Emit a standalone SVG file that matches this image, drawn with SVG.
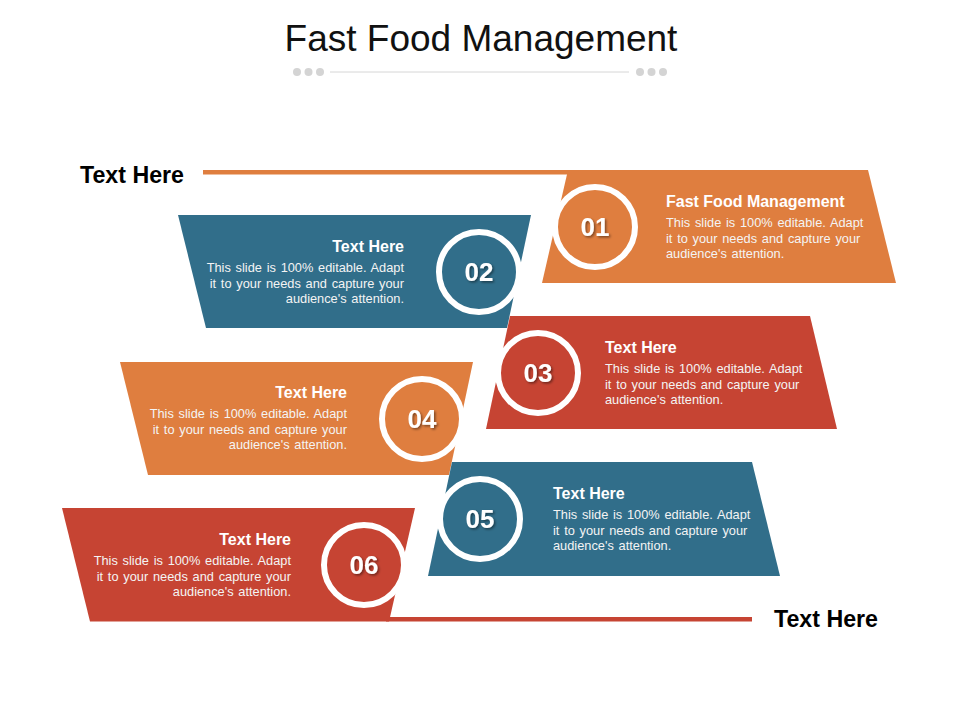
<svg xmlns="http://www.w3.org/2000/svg" width="960" height="720" viewBox="0 0 960 720">
<defs>
<filter id="sh" x="-30%" y="-30%" width="160%" height="160%">
<feDropShadow dx="1.5" dy="1.5" stdDeviation="0.8" flood-color="#000" flood-opacity="0.45"/>
</filter>
</defs>
<style>
text{font-family:"Liberation Sans",Arial,sans-serif}
.title{font-size:37px;fill:#111}
.side{font-size:23.2px;font-weight:bold;fill:#000}
.hd{font-size:16px;font-weight:bold;fill:#fff}
.bd{font-size:12.8px;fill:#f4f4f4;word-spacing:1.2px}
.num{font-size:26px;font-weight:bold;fill:#fff;text-anchor:middle}
.ring{stroke:#fff;stroke-width:6}
.or{fill:#DF7E3F}
.bl{fill:#316E8A}
.rd{fill:#C64433}
.r{text-anchor:end}
.dot{fill:#d4d4d4}
</style>
<rect width="960" height="720" fill="#fff"/>
<g id="header">
<text class="title" x="481" y="51" text-anchor="middle">Fast Food Management</text>
<circle class="dot" cx="297" cy="72" r="4"/>
<circle class="dot" cx="308.5" cy="72" r="4"/>
<circle class="dot" cx="320" cy="72" r="4"/>
<line x1="330" y1="72" x2="629" y2="72" stroke="#d6d6d6" stroke-width="1"/>
<circle class="dot" cx="640" cy="72" r="4"/>
<circle class="dot" cx="651.5" cy="72" r="4"/>
<circle class="dot" cx="663" cy="72" r="4"/>
</g>
<g id="connectors">
<rect class="or" x="203" y="170" width="368" height="4.5"/>
<rect class="rd" x="386" y="617" width="366" height="4.5"/>
</g>
<g id="band01">
<polygon class="or" points="568,170 868,170 896,283 542,283"/>
<circle class="or ring" cx="595" cy="227" r="40"/>
<text class="num" x="595" y="236" filter="url(#sh)">01</text>
<text class="hd" x="666" y="207">Fast Food Management</text>
<text class="bd" x="666" y="227">This slide is 100% editable. Adapt</text>
<text class="bd" x="666" y="242.5">it to your needs and capture your</text>
<text class="bd" x="666" y="258">audience's attention.</text>
</g>
<g id="band02">
<polygon class="bl" points="178,215 531,215 507,328 206,328"/>
<circle class="bl ring" cx="479" cy="272" r="40"/>
<text class="num" x="479" y="281" filter="url(#sh)">02</text>
<text class="hd r" x="404" y="252">Text Here</text>
<text class="bd r" x="404" y="272">This slide is 100% editable. Adapt</text>
<text class="bd r" x="404" y="287.5">it to your needs and capture your</text>
<text class="bd r" x="404" y="303">audience's attention.</text>
</g>
<g id="band03">
<polygon class="rd" points="510,316 810,316 837,429 486,429"/>
<circle class="rd ring" cx="538" cy="373" r="40"/>
<text class="num" x="538" y="382" filter="url(#sh)">03</text>
<text class="hd" x="605" y="353">Text Here</text>
<text class="bd" x="605" y="373">This slide is 100% editable. Adapt</text>
<text class="bd" x="605" y="388.5">it to your needs and capture your</text>
<text class="bd" x="605" y="404">audience's attention.</text>
</g>
<g id="band04">
<polygon class="or" points="120,362 473,362 449,475 148,475"/>
<circle class="or ring" cx="422" cy="419" r="40"/>
<text class="num" x="422" y="428" filter="url(#sh)">04</text>
<text class="hd r" x="347" y="398">Text Here</text>
<text class="bd r" x="347" y="418">This slide is 100% editable. Adapt</text>
<text class="bd r" x="347" y="433.5">it to your needs and capture your</text>
<text class="bd r" x="347" y="449">audience's attention.</text>
</g>
<g id="band05">
<polygon class="bl" points="452,462 752,462 780,576 428,576"/>
<circle class="bl ring" cx="480" cy="519" r="40"/>
<text class="num" x="480" y="528" filter="url(#sh)">05</text>
<text class="hd" x="553" y="499">Text Here</text>
<text class="bd" x="553" y="519">This slide is 100% editable. Adapt</text>
<text class="bd" x="553" y="534.5">it to your needs and capture your</text>
<text class="bd" x="553" y="550">audience's attention.</text>
</g>
<g id="band06">
<polygon class="rd" points="62,508 415,508 389,621.5 90,621.5"/>
<circle class="rd ring" cx="364" cy="565" r="40"/>
<text class="num" x="364" y="574" filter="url(#sh)">06</text>
<text class="hd r" x="291" y="545">Text Here</text>
<text class="bd r" x="291" y="565">This slide is 100% editable. Adapt</text>
<text class="bd r" x="291" y="580.5">it to your needs and capture your</text>
<text class="bd r" x="291" y="596">audience's attention.</text>
</g>
<g id="label-top">
<text class="side" x="80" y="183">Text Here</text>
</g>
<g id="label-bottom">
<text class="side" x="774" y="627">Text Here</text>
</g>
</svg>
